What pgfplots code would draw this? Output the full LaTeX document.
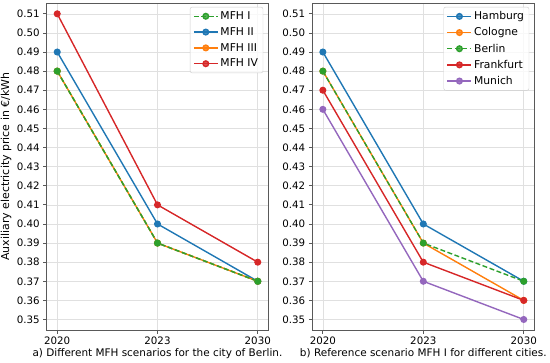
\documentclass[border=0pt]{standalone}
\usepackage{pgfplots}
\pgfplotsset{compat=1.18}
\usepackage{fontspec}
\setmainfont{DejaVu Sans}
\definecolor{tabblue}{HTML}{1F77B4}
\definecolor{taborange}{HTML}{FF7F0E}
\definecolor{tabgreen}{HTML}{2CA02C}
\definecolor{tabred}{HTML}{D62728}
\definecolor{tabpurple}{HTML}{9467BD}
\pgfplotsset{
  panel/.style={
    scale only axis, height=326.7bp,
    ymin=0.3445, ymax=0.5155,
    xmin=-0.105, xmax=2.105,
    xtick={0,1,2}, xticklabels={2020,2023,2030},
    ytick={0.35,0.36,0.37,0.38,0.39,0.40,0.41,0.42,0.43,0.44,0.45,0.46,0.47,0.48,0.49,0.50,0.51},
    yticklabel style={/pgf/number format/.cd, fixed, fixed zerofill, precision=2},
    /pgf/number format/assume math mode=true,
    grid=major, major grid style={black!12, line width=0.6bp},
    axis line style={black!65, line width=0.8bp}, tick style={black!65, line width=0.8bp},
    tick align=outside, major tick length=3.5bp, tick pos=left,
    ticklabel style={font=\fontsize{10.3}{12}\selectfont},
    ylabel style={font=\fontsize{11}{13}\selectfont},
    xlabel style={font=\fontsize{10.5}{12.5}\selectfont, yshift=3bp},
    legend style={at={(0.977,0.989)}, anchor=north east, draw=black!20, rounded corners=2pt,
      fill=white, fill opacity=0.8, text opacity=1, font=\fontsize{10.8}{13}\selectfont,
      inner xsep=3bp, inner ysep=2.5bp, row sep=2.5bp},
    legend cell align=left,
    legend image code/.code={\draw[mark repeat=2,mark phase=2,##1] plot coordinates {(0bp,0bp)(12bp,0bp)(24bp,0bp)};},
  },
  ser/.style={color=#1, line width=1.4bp, mark=*, mark size=2.8bp, mark options={solid, fill=#1}},
  dsh/.style={dash pattern=on 5bp off 2.5bp},
}
\begin{document}
\begin{tikzpicture}
\useasboundingbox (-46.7bp,-33bp) rectangle (503.3bp,330bp);
\begin{axis}[panel, width=221.6bp,
  ylabel={Auxiliary electricity price in €/kWh},
  xlabel={a) Different MFH scenarios for the city of Berlin.},
  ylabel style={at={(axis description cs:0,0.5)}, anchor=center, yshift=40.5bp}]
\addplot[ser=tabgreen, dsh] coordinates {(0,0.48) (1,0.39) (2,0.37)};
\addlegendentry{MFH I}
\addplot[ser=tabblue] coordinates {(0,0.49) (1,0.40) (2,0.37)};
\addlegendentry{MFH II}
\addplot[ser=taborange] coordinates {(0,0.48) (1,0.39) (2,0.37)};
\addlegendentry{MFH III}
\addplot[ser=tabred] coordinates {(0,0.51) (1,0.41) (2,0.38)};
\addlegendentry{MFH IV}
\addplot[ser=tabgreen, dsh, forget plot] coordinates {(0,0.48) (1,0.39) (2,0.37)};
\end{axis}
\begin{axis}[panel, width=222bp, xshift=265.6bp,
  xlabel={b) Reference scenario MFH I for different cities.}]
\addplot[ser=tabblue] coordinates {(0,0.49) (1,0.40) (2,0.37)};
\addlegendentry{Hamburg}
\addplot[ser=taborange] coordinates {(0,0.48) (1,0.39) (2,0.36)};
\addlegendentry{Cologne}
\addplot[ser=tabgreen, dsh] coordinates {(0,0.48) (1,0.39) (2,0.37)};
\addlegendentry{Berlin}
\addplot[ser=tabred] coordinates {(0,0.47) (1,0.38) (2,0.36)};
\addlegendentry{Frankfurt}
\addplot[ser=tabpurple] coordinates {(0,0.46) (1,0.37) (2,0.35)};
\addlegendentry{Munich}
\end{axis}
\end{tikzpicture}
\end{document}
